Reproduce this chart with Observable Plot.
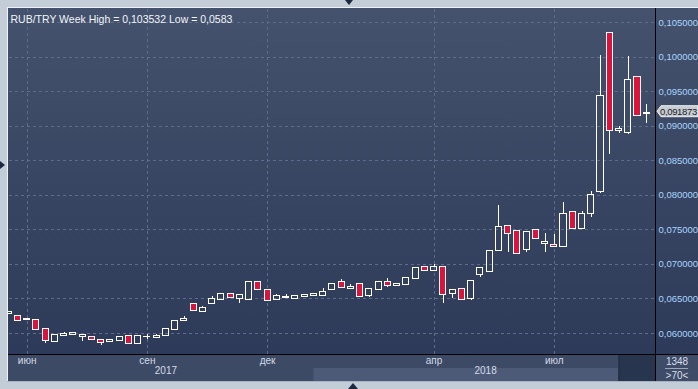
<!DOCTYPE html>
<html><head><meta charset="utf-8">
<script src="https://cdn.jsdelivr.net/npm/d3@7"></script>
<script src="https://cdn.jsdelivr.net/npm/@observablehq/plot@0.6"></script>
<style>
html,body{margin:0;padding:0;}
body{width:698px;height:389px;background:#c3cdd8;position:relative;overflow:hidden;font-family:"Liberation Sans",Arial,sans-serif;}
#hl{position:absolute;left:7px;top:7px;width:691px;height:374px;background:#eef2f7;}
#bl{position:absolute;left:7px;top:381px;width:691px;height:1px;background:#a7b3c3;}
#chart{position:absolute;left:8px;top:8px;width:690px;height:373px;}
.tri{position:absolute;width:0;height:0;}
#tt{left:345px;top:0;border-left:4px solid transparent;border-right:4px solid transparent;border-top:5px solid #1c2740;}
#tb{left:348px;top:383px;border-left:5px solid transparent;border-right:5px solid transparent;border-bottom:6px solid #1c2740;}
#tl{left:0;top:161px;border-top:4px solid transparent;border-bottom:4px solid transparent;border-left:5px solid #1c2740;}
</style></head>
<body>
<div id="hl"></div><div id="bl"></div>
<div class="tri" id="tt"></div><div class="tri" id="tb"></div><div class="tri" id="tl"></div>
<div id="chart"></div>
<script>
// ---- data (weekly RUB/TRY candles, first week starting 2017-05-15) ----
const firstWeek = "2017-05-15";
const open = [0.06285,0.06246,0.06190,0.06198,0.06068,0.05874,0.05961,0.05981,0.05946,0.05942,
0.05909,0.05874,0.05894,0.05957,0.05851,0.05942,0.05938,0.05961,0.06054,0.06178,
0.06430,0.06308,0.06424,0.06482,0.06574,0.06496,0.06482,0.06748,0.06632,0.06488,
0.06511,0.06496,0.06535,0.06540,0.06540,0.06627,0.06748,0.06641,0.06709,0.06540,
0.06632,0.06738,0.06690,0.06705,0.06792,0.06955,0.06907,0.06965,0.06574,0.06647,
0.06496,0.06849,0.06893,0.07197,0.07558,0.07486,0.07211,0.07501,0.07302,0.07283,
0.07255,0.07761,0.07515,0.07732,0.08045,0.103532,0.08933,0.08894,0.09714,0.09178];
const high = [0.06325,0.06246,0.06215,0.06198,0.06068,0.05971,0.06014,0.06019,0.05971,0.05952,
0.05909,0.05899,0.05952,0.05957,0.05957,0.05981,0.05990,0.06068,0.06184,0.06246,
0.06430,0.06391,0.06535,0.06574,0.06574,0.06550,0.06748,0.06748,0.06632,0.06564,
0.06564,0.06546,0.06569,0.06569,0.06651,0.06723,0.06781,0.06709,0.06709,0.06637,
0.06738,0.06796,0.06723,0.06810,0.06941,0.06955,0.06998,0.06965,0.06632,0.06647,
0.06763,0.06951,0.07197,0.07852,0.07558,0.07486,0.07472,0.07501,0.07443,0.07433,
0.07895,0.07761,0.07765,0.08055,0.10023,0.103532,0.08995,0.10010,0.09714,0.09313];
const low = [0.06280,0.06184,0.06185,0.06054,0.05860,0.05874,0.05961,0.05967,0.05884,0.05909,
0.05830,0.05874,0.05894,0.05851,0.05851,0.05913,0.05938,0.05961,0.06054,0.06178,
0.06324,0.06308,0.06424,0.06482,0.06517,0.06438,0.06482,0.06632,0.06473,0.06488,
0.06511,0.06496,0.06535,0.06540,0.06540,0.06627,0.06655,0.06641,0.06525,0.06525,
0.06632,0.06661,0.06680,0.06705,0.06792,0.06907,0.06907,0.06438,0.06511,0.06488,
0.06473,0.06815,0.06893,0.07197,0.07176,0.07153,0.07176,0.07370,0.07176,0.07255,
0.07255,0.07515,0.07515,0.07674,0.08030,0.08590,0.08898,0.08880,0.09140,0.09043];
const close = [0.06318,0.06184,0.06205,0.06054,0.05889,0.05971,0.05986,0.06000,0.05971,0.05909,
0.05865,0.05899,0.05952,0.05851,0.05957,0.05947,0.05967,0.06068,0.06184,0.06203,
0.06324,0.06376,0.06502,0.06574,0.06517,0.06550,0.06748,0.06632,0.06473,0.06546,
0.06535,0.06546,0.06550,0.06569,0.06603,0.06709,0.06655,0.06670,0.06525,0.06637,
0.06738,0.06684,0.06723,0.06810,0.06941,0.06907,0.06955,0.06554,0.06632,0.06488,
0.06763,0.06951,0.07197,0.07544,0.07443,0.07153,0.07472,0.07370,0.07317,0.07255,
0.07732,0.07515,0.07722,0.08007,0.09440,0.08933,0.08956,0.09671,0.09154,0.091873];

const monthTicks = ["2017-05-29","2017-08-28","2017-11-27","2018-04-02","2018-07-02"];
const monthLabels = ["июн","сен","дек","апр","июл"];
const yearLabels = ["2017","2018"];
const yearAnchors = ["2017-09-11","2018-05-11"];
const yearBandStart = "2018-01-01";
const scrollBoxStart = "2018-08-20";
const yTicks = [0.060,0.065,0.070,0.075,0.080,0.085,0.090,0.095,0.100,0.105];
const titleText = "RUB/TRY Week High = 0,103532 Low = 0,0583";
const barsTotal = "1348";
const barsVisible = ">70<";
const lastPrice = 0.091873;

// ---- build tables ----
const t0 = new Date(firstWeek + "T00:00Z");
const candles = open.map((o, i) => ({
  date: d3.utcDay.offset(t0, 7 * i), open: o, high: high[i], low: low[i], close: close[i]
}));
const months = monthTicks.map((d, i) => ({date: new Date(d + "T00:00Z"), label: monthLabels[i]}));
const years = yearLabels.map((y, i) => ({date: new Date(yearAnchors[i] + "T00:00Z"), label: y}));
const fmt = v => v.toFixed(6).replace(".", ",");

const RED = "#dc143c", WHITE = "#ffffff", GRID = "#5c6c89";
const FONT = "'Liberation Sans', Arial, sans-serif";

function strip(index, scales, values, dimensions) {
  const {width, height, marginRight, marginBottom} = dimensions;
  const x = scales.x, y = scales.y;
  const R = width - marginRight, B = height - marginBottom;
  const g = d3.create("svg:g");
  g.append("rect").attr("x", 0).attr("y", B + 1).attr("width", R).attr("height", marginBottom - 1).attr("fill", "#3d4a65");
  const x18 = x(new Date(yearBandStart + "T00:00Z")), xs = x(new Date(scrollBoxStart + "T00:00Z"));
  g.append("rect").attr("x", x18).attr("y", B + 14).attr("width", xs - x18).attr("height", marginBottom - 14).attr("fill", "#4c5a77");
  g.append("rect").attr("x", xs).attr("y", B + 1).attr("width", R - xs).attr("height", marginBottom - 1).attr("fill", "#28354f");
  g.append("rect").attr("x", xs).attr("y", B + 1).attr("width", 1).attr("height", marginBottom - 1).attr("fill", "#1f2a3f");
  g.append("rect").attr("x", R + 1).attr("y", B + 1).attr("width", marginRight - 1).attr("height", marginBottom - 1).attr("fill", "#3f4c68");
  g.append("rect").attr("x", 0).attr("y", B).attr("width", width).attr("height", 1).attr("fill", "#000");
  g.append("rect").attr("x", R).attr("y", 0).attr("width", 1).attr("height", height).attr("fill", "#000");
  const cx = R + (marginRight) / 2 + 0.5;
  g.append("text").attr("x", cx).attr("y", B + 10.5).attr("text-anchor", "middle").attr("fill", "#d8dee8")
    .attr("font-size", 10).attr("font-family", FONT).text(barsTotal);
  g.append("rect").attr("x", R + 10).attr("y", B + 14).attr("width", 23).attr("height", 1).attr("fill", "#9aa6b8");
  g.append("text").attr("x", cx).attr("y", B + 24.5).attr("text-anchor", "middle").attr("fill", "#d8dee8")
    .attr("font-size", 10).attr("font-family", FONT).text(barsVisible);
  // current price marker
  const py = y(lastPrice) - 1.5;
  g.append("path").attr("d", `M${R + 2},${py} L${R + 6},${py - 5.5} H${width} V${py + 5.5} H${R + 6} Z`)
    .attr("fill", "#c7ccd3").attr("stroke", "#eef0f3").attr("stroke-width", 1);
  g.append("text").attr("x", R + 5).attr("y", py + 3.4).attr("text-anchor", "start").attr("fill", "#1a1d24")
    .attr("font-size", 9.5).attr("letter-spacing", -0.35).attr("font-family", FONT).text(fmt(lastPrice));
  return g.node();
}

const up = candles.filter(d => d.close >= d.open);
const down = candles.filter(d => d.close < d.open);
const hw = 55; // half body width in hours

const plot = Plot.plot({
  width: 690, height: 373,
  marginLeft: 1, marginRight: 43, marginTop: 1, marginBottom: 27,
  style: {background: "linear-gradient(180deg, #44526d 0%, #2b3857 100%)", fontFamily: FONT, overflow: "hidden"},
  x: {type: "utc", domain: [new Date("2017-05-15T15:00Z"), new Date("2018-09-16T15:00Z")], axis: null},
  y: {domain: [0.05696, 0.10688], axis: null},
  marks: [
    Plot.ruleY(yTicks, {y: d => d, stroke: GRID, strokeDasharray: "3,3", shapeRendering: "crispEdges"}),
    Plot.ruleX(months, {x: "date", stroke: GRID, strokeDasharray: "3,3", shapeRendering: "crispEdges"}),
    Plot.ruleX(candles, {x: "date", y1: d => Math.max(d.open, d.close), y2: "high", stroke: WHITE, shapeRendering: "crispEdges"}),
    Plot.ruleX(candles, {x: "date", y1: "low", y2: d => Math.min(d.open, d.close), stroke: WHITE, shapeRendering: "crispEdges"}),
    Plot.rect(up, {x1: d => d3.utcHour.offset(d.date, -hw), x2: d => d3.utcHour.offset(d.date, hw), y1: "open", y2: "close",
      fill: "none", stroke: WHITE, strokeWidth: 1, shapeRendering: "crispEdges"}),
    Plot.rect(down, {x1: d => d3.utcHour.offset(d.date, -hw), x2: d => d3.utcHour.offset(d.date, hw), y1: "open", y2: "close",
      fill: RED, stroke: WHITE, strokeWidth: 1, shapeRendering: "crispEdges"}),
    strip,
    Plot.text(months, {x: "date", text: "label", frameAnchor: "bottom", dy: 9.5, fill: "#d3dae5", fontSize: 10, fontFamily: FONT}),
    Plot.text(years, {x: "date", text: "label", frameAnchor: "bottom", dy: 19, fill: "#d3dae5", fontSize: 10, fontFamily: FONT}),
    Plot.text(yTicks, {y: d => d, text: d => fmt(d), frameAnchor: "right", dx: 3, textAnchor: "start",
      fill: "#a9d5ff", fontSize: 9.5, fontFamily: FONT}),
    Plot.text([titleText], {text: d => d, frameAnchor: "top-left", dx: 1, dy: 6, textAnchor: "start",
      fill: "#f2f5f9", fontSize: 10.5, fontFamily: FONT})
  ]
});
document.getElementById("chart").appendChild(plot);
</script>
</body></html>
